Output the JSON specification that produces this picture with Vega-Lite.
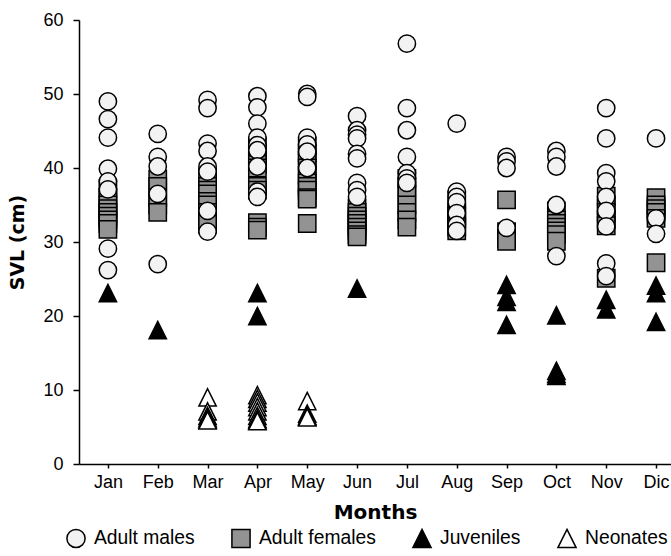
{
  "$schema": "https://vega.github.io/schema/vega-lite/v6.json",
  "width": 592,
  "height": 444,
  "autosize": "none",
  "padding": {"left": 79, "top": 20, "right": 0, "bottom": 92},
  "background": "white",
  "config": {
    "view": {"stroke": null},
    "font": "Liberation Sans",
    "axis": {"domainColor": "#000", "domainWidth": 1.5, "tickColor": "#000", "tickWidth": 1.5, "labelColor": "#000", "titleColor": "#000", "grid": false, "labelFont": "Liberation Sans", "titleFont": "DejaVu Sans"}
  },
  "datasets": {
    "pts": [
      {"m":1,"svl":37.2,"g":"Adult females"},{"m":1,"svl":36,"g":"Adult females"},{"m":1,"svl":35,"g":"Adult females"},{"m":1,"svl":34.5,"g":"Adult females"},{"m":1,"svl":34,"g":"Adult females"},{"m":1,"svl":33.5,"g":"Adult females"},{"m":1,"svl":33,"g":"Adult females"},{"m":1,"svl":32.5,"g":"Adult females"},{"m":1,"svl":31.7,"g":"Adult females"},
      {"m":2,"svl":38.5,"g":"Adult females"},{"m":2,"svl":37.5,"g":"Adult females"},{"m":2,"svl":36,"g":"Adult females"},{"m":2,"svl":35,"g":"Adult females"},{"m":2,"svl":34,"g":"Adult females"},
      {"m":3,"svl":38.8,"g":"Adult females"},{"m":3,"svl":37.5,"g":"Adult females"},{"m":3,"svl":37,"g":"Adult females"},{"m":3,"svl":36.5,"g":"Adult females"},{"m":3,"svl":35.5,"g":"Adult females"},{"m":3,"svl":35,"g":"Adult females"},{"m":3,"svl":34,"g":"Adult females"},{"m":3,"svl":33,"g":"Adult females"},{"m":3,"svl":32.4,"g":"Adult females"},
      {"m":4,"svl":43,"g":"Adult females"},{"m":4,"svl":42,"g":"Adult females"},{"m":4,"svl":41,"g":"Adult females"},{"m":4,"svl":40.5,"g":"Adult females"},{"m":4,"svl":40,"g":"Adult females"},{"m":4,"svl":37.5,"g":"Adult females"},{"m":4,"svl":37,"g":"Adult females"},{"m":4,"svl":32.6,"g":"Adult females"},{"m":4,"svl":32,"g":"Adult females"},{"m":4,"svl":31.6,"g":"Adult females"},
      {"m":5,"svl":43,"g":"Adult females"},{"m":5,"svl":42,"g":"Adult females"},{"m":5,"svl":41,"g":"Adult females"},{"m":5,"svl":40,"g":"Adult females"},{"m":5,"svl":39,"g":"Adult females"},{"m":5,"svl":38,"g":"Adult females"},{"m":5,"svl":37.5,"g":"Adult females"},{"m":5,"svl":37,"g":"Adult females"},{"m":5,"svl":36,"g":"Adult females"},{"m":5,"svl":35.8,"g":"Adult females"},{"m":5,"svl":32.5,"g":"Adult females"},
      {"m":6,"svl":34.6,"g":"Adult females"},{"m":6,"svl":34,"g":"Adult females"},{"m":6,"svl":33.5,"g":"Adult females"},{"m":6,"svl":33,"g":"Adult females"},{"m":6,"svl":32.5,"g":"Adult females"},{"m":6,"svl":32,"g":"Adult females"},{"m":6,"svl":31.5,"g":"Adult females"},{"m":6,"svl":31,"g":"Adult females"},{"m":6,"svl":30.7,"g":"Adult females"},
      {"m":7,"svl":38.6,"g":"Adult females"},{"m":7,"svl":37.5,"g":"Adult females"},{"m":7,"svl":36.5,"g":"Adult females"},{"m":7,"svl":35,"g":"Adult females"},{"m":7,"svl":34,"g":"Adult females"},{"m":7,"svl":33,"g":"Adult females"},{"m":7,"svl":32,"g":"Adult females"},
      {"m":8,"svl":35.7,"g":"Adult females"},{"m":8,"svl":34,"g":"Adult females"},{"m":8,"svl":33.5,"g":"Adult females"},{"m":8,"svl":33,"g":"Adult females"},{"m":8,"svl":32,"g":"Adult females"},{"m":8,"svl":31.5,"g":"Adult females"},
      {"m":9,"svl":35.7,"g":"Adult females"},{"m":9,"svl":31.4,"g":"Adult females"},{"m":9,"svl":30.5,"g":"Adult females"},{"m":9,"svl":30.1,"g":"Adult females"},
      {"m":10,"svl":34.2,"g":"Adult females"},{"m":10,"svl":33,"g":"Adult females"},{"m":10,"svl":32.5,"g":"Adult females"},{"m":10,"svl":32,"g":"Adult females"},{"m":10,"svl":31.5,"g":"Adult females"},{"m":10,"svl":31,"g":"Adult females"},{"m":10,"svl":30.1,"g":"Adult females"},
      {"m":11,"svl":36.2,"g":"Adult females"},{"m":11,"svl":35,"g":"Adult females"},{"m":11,"svl":34,"g":"Adult females"},{"m":11,"svl":33,"g":"Adult females"},{"m":11,"svl":32.2,"g":"Adult females"},{"m":11,"svl":25.1,"g":"Adult females"},
      {"m":12,"svl":36,"g":"Adult females"},{"m":12,"svl":35,"g":"Adult females"},{"m":12,"svl":34.5,"g":"Adult females"},{"m":12,"svl":34,"g":"Adult females"},{"m":12,"svl":33.2,"g":"Adult females"},{"m":12,"svl":27.2,"g":"Adult females"},

      {"m":1,"svl":49.0,"g":"Adult males"},{"m":1,"svl":46.6,"g":"Adult males"},{"m":1,"svl":44.1,"g":"Adult males"},{"m":1,"svl":39.9,"g":"Adult males"},{"m":1,"svl":38.2,"g":"Adult males"},{"m":1,"svl":37.1,"g":"Adult males"},{"m":1,"svl":29.1,"g":"Adult males"},{"m":1,"svl":26.2,"g":"Adult males"},
      {"m":2,"svl":44.6,"g":"Adult males"},{"m":2,"svl":41.5,"g":"Adult males"},{"m":2,"svl":40.2,"g":"Adult males"},{"m":2,"svl":36.5,"g":"Adult males"},{"m":2,"svl":27.0,"g":"Adult males"},
      {"m":3,"svl":49.2,"g":"Adult males"},{"m":3,"svl":48.1,"g":"Adult males"},{"m":3,"svl":43.3,"g":"Adult males"},{"m":3,"svl":42.3,"g":"Adult males"},{"m":3,"svl":40.2,"g":"Adult males"},{"m":3,"svl":39.5,"g":"Adult males"},{"m":3,"svl":34.2,"g":"Adult males"},{"m":3,"svl":31.4,"g":"Adult males"},
      {"m":4,"svl":49.7,"g":"Adult males"},{"m":4,"svl":48.2,"g":"Adult males"},{"m":4,"svl":46.0,"g":"Adult males"},{"m":4,"svl":44.1,"g":"Adult males"},{"m":4,"svl":43.1,"g":"Adult males"},{"m":4,"svl":42.4,"g":"Adult males"},{"m":4,"svl":40.2,"g":"Adult males"},{"m":4,"svl":36.8,"g":"Adult males"},{"m":4,"svl":36.1,"g":"Adult males"},
      {"m":5,"svl":50.0,"g":"Adult males"},{"m":5,"svl":49.6,"g":"Adult males"},{"m":5,"svl":44.1,"g":"Adult males"},{"m":5,"svl":43.2,"g":"Adult males"},{"m":5,"svl":42.2,"g":"Adult males"},{"m":5,"svl":40.0,"g":"Adult males"},
      {"m":6,"svl":47.0,"g":"Adult males"},{"m":6,"svl":45.1,"g":"Adult males"},{"m":6,"svl":44.5,"g":"Adult males"},{"m":6,"svl":44.0,"g":"Adult males"},{"m":6,"svl":41.9,"g":"Adult males"},{"m":6,"svl":41.3,"g":"Adult males"},{"m":6,"svl":38.0,"g":"Adult males"},{"m":6,"svl":37.0,"g":"Adult males"},{"m":6,"svl":36.1,"g":"Adult males"},
      {"m":7,"svl":56.8,"g":"Adult males"},{"m":7,"svl":48.1,"g":"Adult males"},{"m":7,"svl":45.1,"g":"Adult males"},{"m":7,"svl":41.5,"g":"Adult males"},{"m":7,"svl":39.3,"g":"Adult males"},{"m":7,"svl":38.6,"g":"Adult males"},{"m":7,"svl":38.0,"g":"Adult males"},
      {"m":8,"svl":46.0,"g":"Adult males"},{"m":8,"svl":36.8,"g":"Adult males"},{"m":8,"svl":36.1,"g":"Adult males"},{"m":8,"svl":35.4,"g":"Adult males"},{"m":8,"svl":33.9,"g":"Adult males"},{"m":8,"svl":32.3,"g":"Adult males"},{"m":8,"svl":31.5,"g":"Adult males"},
      {"m":9,"svl":41.5,"g":"Adult males"},{"m":9,"svl":40.9,"g":"Adult males"},{"m":9,"svl":40.0,"g":"Adult males"},{"m":9,"svl":31.9,"g":"Adult males"},
      {"m":10,"svl":42.3,"g":"Adult males"},{"m":10,"svl":41.5,"g":"Adult males"},{"m":10,"svl":40.2,"g":"Adult males"},{"m":10,"svl":35.0,"g":"Adult males"},{"m":10,"svl":28.1,"g":"Adult males"},
      {"m":11,"svl":48.1,"g":"Adult males"},{"m":11,"svl":44.0,"g":"Adult males"},{"m":11,"svl":39.3,"g":"Adult males"},{"m":11,"svl":38.2,"g":"Adult males"},{"m":11,"svl":36.1,"g":"Adult males"},{"m":11,"svl":34.2,"g":"Adult males"},{"m":11,"svl":32.1,"g":"Adult males"},{"m":11,"svl":27.1,"g":"Adult males"},{"m":11,"svl":25.4,"g":"Adult males"},
      {"m":12,"svl":44.0,"g":"Adult males"},{"m":12,"svl":33.2,"g":"Adult males"},{"m":12,"svl":31.1,"g":"Adult males"},

      {"m":1,"svl":23.1,"g":"Juveniles"},{"m":2,"svl":18.1,"g":"Juveniles"},{"m":4,"svl":23.1,"g":"Juveniles"},{"m":4,"svl":20.0,"g":"Juveniles"},{"m":6,"svl":23.7,"g":"Juveniles"},
      {"m":9,"svl":24.2,"g":"Juveniles"},{"m":9,"svl":22.6,"g":"Juveniles"},{"m":9,"svl":21.9,"g":"Juveniles"},{"m":9,"svl":18.8,"g":"Juveniles"},
      {"m":10,"svl":20.1,"g":"Juveniles"},{"m":10,"svl":12.6,"g":"Juveniles"},{"m":10,"svl":12.2,"g":"Juveniles"},{"m":10,"svl":11.9,"g":"Juveniles"},
      {"m":11,"svl":22.2,"g":"Juveniles"},{"m":11,"svl":20.9,"g":"Juveniles"},
      {"m":12,"svl":24.1,"g":"Juveniles"},{"m":12,"svl":23.1,"g":"Juveniles"},{"m":12,"svl":19.2,"g":"Juveniles"},

      {"m":3,"svl":9.0,"g":"Neonates"},{"m":3,"svl":7.1,"g":"Neonates"},{"m":3,"svl":6.5,"g":"Neonates"},{"m":3,"svl":6.2,"g":"Neonates"},{"m":3,"svl":6.0,"g":"Neonates"},{"m":3,"svl":5.9,"g":"Neonates"},
      {"m":4,"svl":9.3,"g":"Neonates"},{"m":4,"svl":8.8,"g":"Neonates"},{"m":4,"svl":8.3,"g":"Neonates"},{"m":4,"svl":7.7,"g":"Neonates"},{"m":4,"svl":7.1,"g":"Neonates"},{"m":4,"svl":6.5,"g":"Neonates"},{"m":4,"svl":6.1,"g":"Neonates"},{"m":4,"svl":5.9,"g":"Neonates"},{"m":4,"svl":5.8,"g":"Neonates"},
      {"m":5,"svl":8.5,"g":"Neonates"},{"m":5,"svl":6.8,"g":"Neonates"},{"m":5,"svl":6.5,"g":"Neonates"},{"m":5,"svl":6.4,"g":"Neonates"},{"m":5,"svl":6.3,"g":"Neonates"}
    ]
  },
  "data": {"name": "pts"},
  "mark": {"type": "point", "stroke": "#000", "strokeWidth": 1.5, "opacity": 1, "size": 300},
  "encoding": {
    "x": {
      "field": "m", "type": "quantitative",
      "scale": {"domain": [0.42, 12.3], "nice": false, "zero": false},
      "axis": {
        "values": [1,2,3,4,5,6,7,8,9,10,11,12],
        "labelExpr": "['Jan','Feb','Mar','Apr','May','Jun','Jul','Aug','Sep','Oct','Nov','Dic'][datum.value-1]",
        "title": "Months", "titleFontSize": 20, "titleFontWeight": "bold", "titlePadding": 11,
        "labelFontSize": 18, "tickSize": 4, "labelPadding": 5, "labelFlush": false, "labelOverlap": false
      }
    },
    "y": {
      "field": "svl", "type": "quantitative",
      "scale": {"domain": [0, 60], "nice": false},
      "axis": {
        "values": [0,10,20,30,40,50,60],
        "title": "SVL (cm)", "titleFontSize": 19, "titleFontWeight": "bold", "titlePadding": 15,
        "labelFontSize": 18, "tickSize": 6, "labelPadding": 10
      }
    },
    "shape": {
      "field": "g", "type": "nominal",
      "scale": {"domain": ["Adult males", "Adult females", "Juveniles", "Neonates"], "range": ["circle", "square", "M0,-1L1,1L-1,1Z", "M0,-1L1,1L-1,1Z"]},
      "legend": {"title": null, "orient": "none", "legendX": -13, "legendY": 508, "direction": "horizontal", "columns": 4, "columnPadding": 33, "labelFontSize": 19.3, "labelColor": "#000", "symbolSize": 330, "labelOffset": 8, "padding": 0, "labelLimit": 300,
        "encode": {"symbols": {"update": {"stroke": {"value": "#000"}, "strokeWidth": {"value": 1.5}}}}}
    },
    "fill": {
      "field": "g", "type": "nominal",
      "scale": {"domain": ["Adult males", "Adult females", "Juveniles", "Neonates"], "range": ["#f2f2f2", "#939393", "#000000", "#ffffff"]},
      "legend": {"title": null, "orient": "none", "legendX": -13, "legendY": 508, "direction": "horizontal", "columns": 4, "columnPadding": 33, "labelFontSize": 19.3, "labelColor": "#000", "symbolSize": 330, "labelOffset": 8, "padding": 0, "labelLimit": 300,
        "encode": {"symbols": {"update": {"stroke": {"value": "#000"}, "strokeWidth": {"value": 1.5}}}}}
    }
  }
}
